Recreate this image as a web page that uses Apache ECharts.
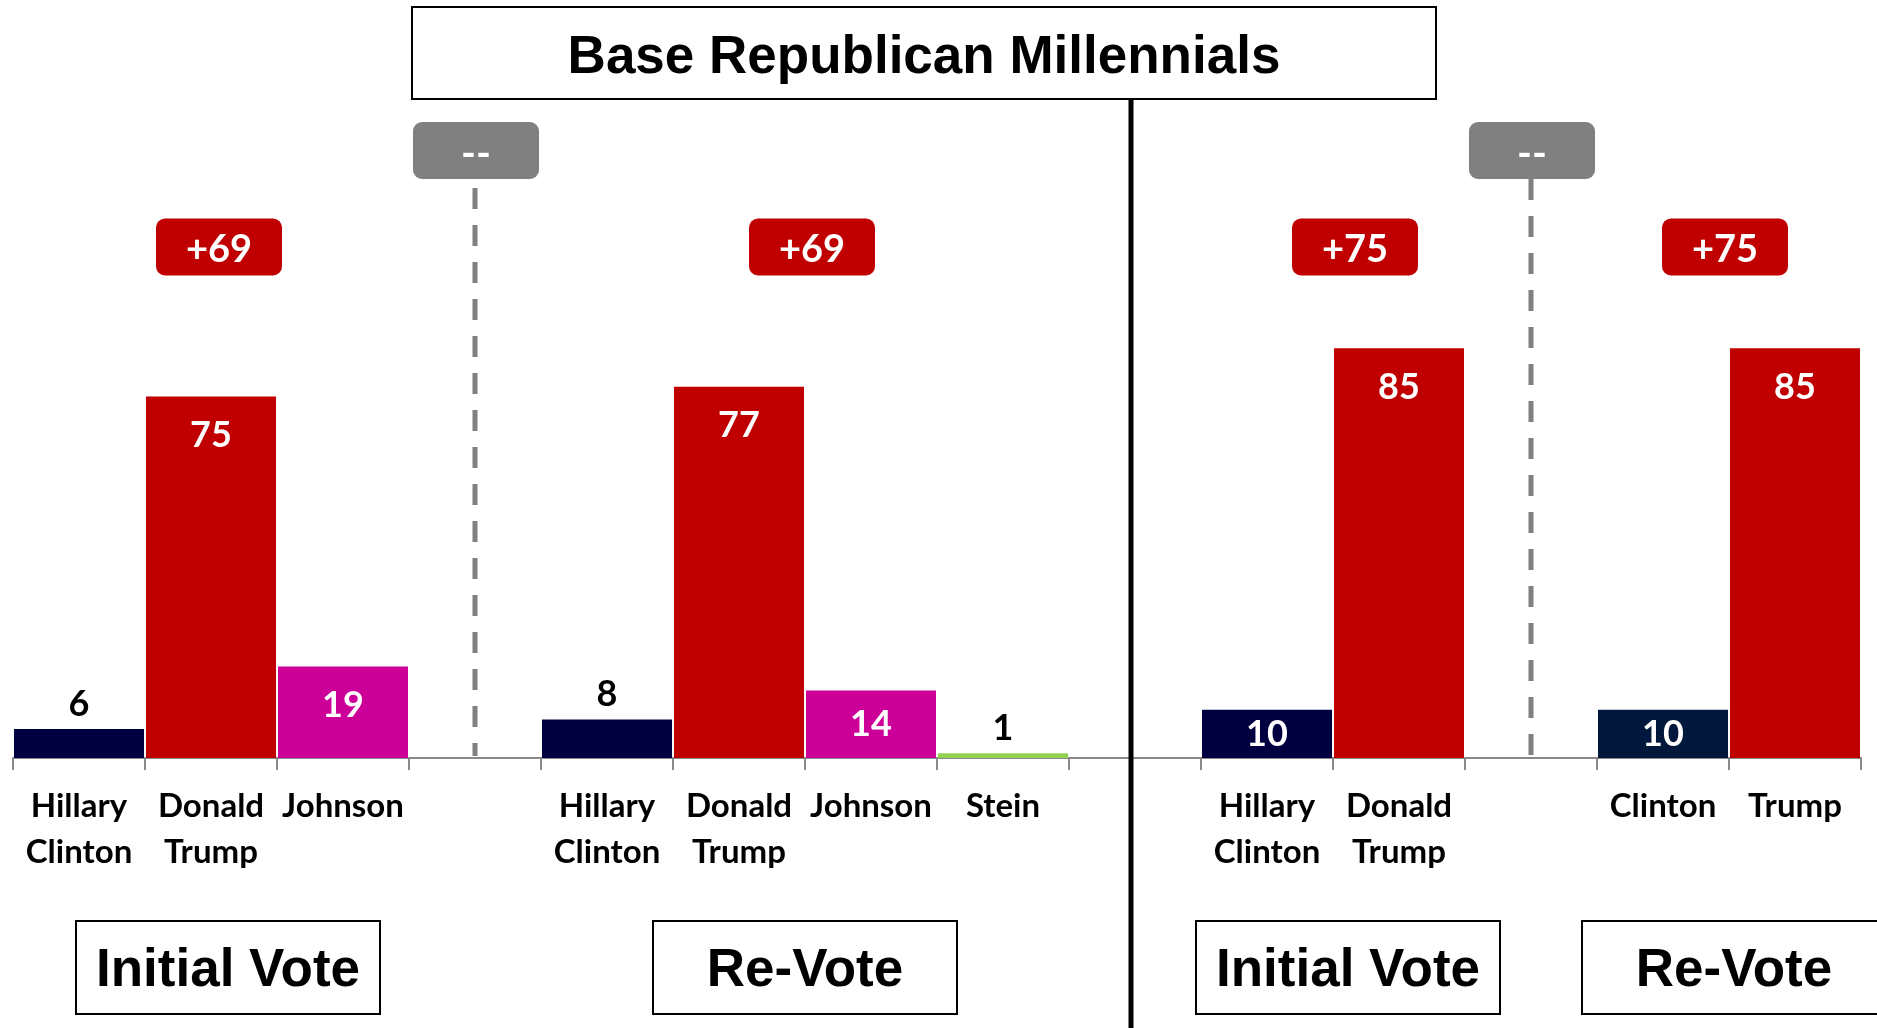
<!DOCTYPE html>
<html>
<head>
<meta charset="utf-8">
<title>Base Republican Millennials</title>
<script src="https://cdn.jsdelivr.net/npm/echarts@6/dist/echarts.min.js"></script>
<style>
  html, body { margin: 0; padding: 0; background: #ffffff; }
  #chart { width: 1877px; height: 1028px; }
</style>
</head>
<body>
<div id="chart"></div>
<script>
// Candidate categories across the four panels (blank entries separate the panels)
const categories = [
  'Hillary\nClinton', 'Donald\nTrump', 'Johnson', '',
  'Hillary\nClinton', 'Donald\nTrump', 'Johnson', 'Stein', '',
  'Hillary\nClinton', 'Donald\nTrump', '',
  'Clinton', 'Trump'
];
// Vote share (%) for each category
const shares = [6, 75, 19, null, 8, 77, 14, 1, null, 10, 85, null, 10, 85];

// Panels: first/last category index, margin badge and panel caption
const panelRanges = [[0, 2], [4, 7], [9, 10], [12, 13]];
const panelMargins = ['+69', '+69', '+75', '+75'];
const panelCaptions = ['Initial Vote', 'Re-Vote', 'Initial Vote', 'Re-Vote'];
// Change badges sit over the blank separator categories
const changeSlots = [3, 11];
const changeLabels = ['--', '--'];
const title = 'Base Republican Millennials';

const barColors = {
  'Hillary\nClinton': '#000040',
  'Clinton': '#02173c',
  'Donald\nTrump': '#c00000',
  'Trump': '#c00000',
  'Johnson': '#cc0099',
  'Stein': '#92d050'
};
// value labels that sit above short bars in black
const outsideLabel = { 'Hillary\nClinton': true, 'Stein': true };

const LABEL_FONT = 'Lato, "Open Sans", "DejaVu Sans", sans-serif';
const TITLE_FONT = '"Liberation Sans", Arial, sans-serif';

const barData = shares.map(function (v, i) {
  if (v === null) return null;
  const name = categories[i];
  const item = { value: v, itemStyle: { color: barColors[name] } };
  if (outsideLabel[name] && v < 9) {
    item.label = { position: 'top', distance: 7, color: '#000000' };
  } else if (v < 18) {
    item.label = { position: 'inside', color: '#ffffff' };
  } else {
    item.label = { position: 'insideTop', distance: 21, color: '#ffffff' };
  }
  return item;
});

const chart = echarts.init(document.getElementById('chart'), null, { renderer: 'canvas' });

chart.setOption({
  backgroundColor: '#ffffff',
  animation: false,
  grid: { left: 13, right: 16, top: 276, bottom: 270, containLabel: false },
  xAxis: {
    type: 'category',
    data: categories,
    boundaryGap: true,
    axisLine: { show: true, lineStyle: { color: '#898989', width: 2 } },
    axisTick: { show: true, alignWithLabel: false, interval: 0, length: 12, lineStyle: { color: '#898989', width: 2 } },
    axisLabel: {
      interval: 0,
      margin: 25,
      color: '#000000',
      fontFamily: LABEL_FONT,
      fontWeight: 'bold',
      fontSize: 33,
      lineHeight: 46
    },
    splitLine: { show: false }
  },
  yAxis: {
    type: 'value',
    min: 0,
    max: 100,
    show: false,
    splitLine: { show: false }
  },
  series: [{
    type: 'bar',
    data: barData,
    barCategoryGap: '1.5%',
    label: {
      show: true,
      fontFamily: LABEL_FONT,
      fontWeight: 'bold',
      fontSize: 36
    }
  }]
});

// ---- annotation layer: title, divider, badges, dashed separators, captions ----
function px(idx, val) {
  return chart.convertToPixel({ gridIndex: 0 }, [idx, val]);
}
const axisY = px(0, 0)[1];

function panelCenter(r) {
  return (px(r[0], 0)[0] + px(r[1], 0)[0]) / 2;
}

function badge(cx, cy, w, h, color, text, fontSize, textDy) {
  return {
    type: 'group',
    children: [
      { type: 'rect', shape: { x: cx - w / 2, y: cy - h / 2, width: w, height: h, r: 9 },
        style: { fill: color } },
      { type: 'text', x: cx, y: cy + textDy,
        style: { text: text, fill: '#ffffff', font: 'bold ' + fontSize + 'px ' + LABEL_FONT,
                 align: 'center', verticalAlign: 'middle' } }
    ]
  };
}

function captionBox(cx, cy, text) {
  const w = 304, h = 93;
  return {
    type: 'group',
    children: [
      { type: 'rect', shape: { x: cx - w / 2, y: cy - h / 2, width: w, height: h },
        style: { fill: '#ffffff', stroke: '#000000', lineWidth: 2 } },
      { type: 'text', x: cx, y: cy + 4,
        style: { text: text, fill: '#000000', font: 'bold 53px ' + TITLE_FONT,
                 align: 'center', verticalAlign: 'middle' } }
    ]
  };
}

const graphics = [];

// title box
graphics.push({
  type: 'rect', shape: { x: 412, y: 7, width: 1024, height: 92 },
  style: { fill: '#ffffff', stroke: '#000000', lineWidth: 2 }
});
graphics.push({
  type: 'text', x: 924, y: 58,
  style: { text: title, fill: '#000000', font: 'bold 53px ' + TITLE_FONT,
           align: 'center', verticalAlign: 'middle' }
});

// divider between the two halves (sits in blank category 8)
const dividerX = px(8, 0)[0] - 4;
graphics.push({
  type: 'line', shape: { x1: dividerX, y1: 99, x2: dividerX, y2: 1028 },
  style: { stroke: '#000000', lineWidth: 5 }, z: 10
});

// dashed separators with change badges
const dashTops = [188, 179];
changeSlots.forEach(function (idx, k) {
  const x = px(idx, 0)[0];
  graphics.push({
    type: 'line', shape: { x1: x, y1: dashTops[k], x2: x, y2: axisY - 2 },
    style: { stroke: '#808080', lineWidth: 5, lineDash: [21, 16] }
  });
  graphics.push(badge(x + 1, 150.5, 126, 57, '#808080', changeLabels[k], 40, 4));
});

// margin badges and panel captions
const marginNudge = [8, 7, 22, -4];
const captionNudge = [17, 0, 15, 5];
panelRanges.forEach(function (r, k) {
  const c = panelCenter(r);
  graphics.push(badge(c + marginNudge[k], 247, 126, 57, '#c00000', panelMargins[k], 38, 3));
  graphics.push(captionBox(c + captionNudge[k], 967.5, panelCaptions[k]));
});

chart.setOption({ graphic: graphics });
</script>
</body>
</html>
